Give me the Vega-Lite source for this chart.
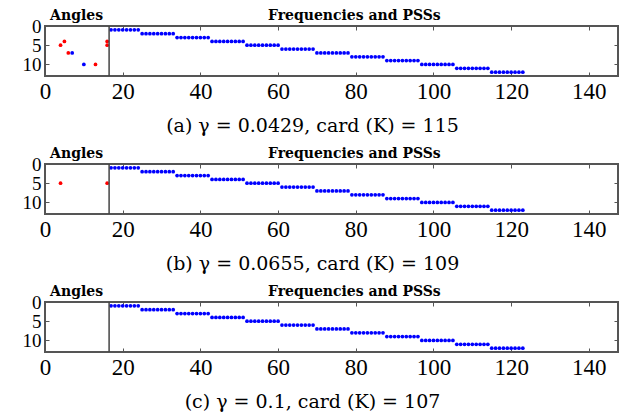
{
  "$schema": "https://vega.github.io/schema/vega-lite/v6.json",
  "padding": {"left": 21, "top": 7, "right": 0, "bottom": 0},
  "config": {
    "view": {"stroke": "#555", "strokeWidth": 2},
    "font": "Liberation Serif",
    "axis": {"labelFont": "Liberation Serif"}
  },
  "datasets": {
    "freq": [
      {"x":17,"y":1},{"x":18,"y":1},{"x":19,"y":1},{"x":20,"y":1},{"x":21,"y":1},{"x":22,"y":1},{"x":23,"y":1},{"x":24,"y":1},
      {"x":25,"y":2},{"x":26,"y":2},{"x":27,"y":2},{"x":28,"y":2},{"x":29,"y":2},{"x":30,"y":2},{"x":31,"y":2},{"x":32,"y":2},{"x":33,"y":2},
      {"x":34,"y":3},{"x":35,"y":3},{"x":36,"y":3},{"x":37,"y":3},{"x":38,"y":3},{"x":39,"y":3},{"x":40,"y":3},{"x":41,"y":3},{"x":42,"y":3},
      {"x":43,"y":4},{"x":44,"y":4},{"x":45,"y":4},{"x":46,"y":4},{"x":47,"y":4},{"x":48,"y":4},{"x":49,"y":4},{"x":50,"y":4},{"x":51,"y":4},
      {"x":52,"y":5},{"x":53,"y":5},{"x":54,"y":5},{"x":55,"y":5},{"x":56,"y":5},{"x":57,"y":5},{"x":58,"y":5},{"x":59,"y":5},{"x":60,"y":5},
      {"x":61,"y":6},{"x":62,"y":6},{"x":63,"y":6},{"x":64,"y":6},{"x":65,"y":6},{"x":66,"y":6},{"x":67,"y":6},{"x":68,"y":6},{"x":69,"y":6},
      {"x":70,"y":7},{"x":71,"y":7},{"x":72,"y":7},{"x":73,"y":7},{"x":74,"y":7},{"x":75,"y":7},{"x":76,"y":7},{"x":77,"y":7},{"x":78,"y":7},
      {"x":79,"y":8},{"x":80,"y":8},{"x":81,"y":8},{"x":82,"y":8},{"x":83,"y":8},{"x":84,"y":8},{"x":85,"y":8},{"x":86,"y":8},{"x":87,"y":8},
      {"x":88,"y":9},{"x":89,"y":9},{"x":90,"y":9},{"x":91,"y":9},{"x":92,"y":9},{"x":93,"y":9},{"x":94,"y":9},{"x":95,"y":9},{"x":96,"y":9},
      {"x":97,"y":10},{"x":98,"y":10},{"x":99,"y":10},{"x":100,"y":10},{"x":101,"y":10},{"x":102,"y":10},{"x":103,"y":10},{"x":104,"y":10},{"x":105,"y":10},
      {"x":106,"y":11},{"x":107,"y":11},{"x":108,"y":11},{"x":109,"y":11},{"x":110,"y":11},{"x":111,"y":11},{"x":112,"y":11},{"x":113,"y":11},{"x":114,"y":11},
      {"x":115,"y":12},{"x":116,"y":12},{"x":117,"y":12},{"x":118,"y":12},{"x":119,"y":12},{"x":120,"y":12},{"x":121,"y":12},{"x":122,"y":12},{"x":123,"y":12}
    ],
    "anglesA": [
      {"x":4,"y":5,"group":"red"},{"x":5,"y":4,"group":"red"},{"x":6,"y":7,"group":"red"},{"x":7,"y":7,"group":"blue"},
      {"x":10,"y":10,"group":"blue"},{"x":13,"y":10,"group":"red"},{"x":16,"y":4,"group":"red"},{"x":16,"y":5,"group":"red"}
    ],
    "anglesB": [
      {"x":4,"y":5,"group":"red"},{"x":16,"y":5,"group":"red"}
    ],
    "sep": [{"x":16.5}]
  },
  "bounds": "flush",
  "spacing": 88,
  "vconcat": [
    {
      "width": 573, "height": 50,
      "resolve": {"axis": {"x": "independent", "y": "independent"}},
      "layer": [
        {
          "data": {"name": "freq"},
          "mark": {"type": "circle", "size": 14, "color": "#0000ff", "opacity": 1},
          "encoding": {
            "x": {"field": "x", "type": "quantitative", "scale": {"domain": [0, 147.5], "nice": false, "zero": false},
              "axis": {"orient": "bottom", "values": [0,20,40,60,80,100,120,140], "grid": false, "domain": false, "tickSize": -4, "tickColor": "#555", "labelFlush": false, "labelOverlap": false, "labelFontSize": 23, "labelColor": "#000", "labelPadding": 8,
                "title": "(a) γ = 0.0429, card (K) = 115", "titleFont": "DejaVu Serif", "titleFontSize": 19, "titleFontWeight": "normal", "titleColor": "#000", "titlePadding": 13, "titleX": 267}},
            "y": {"field": "y", "type": "quantitative", "scale": {"domain": [0, 13], "reverse": true, "nice": false, "zero": false},
              "axis": {"orient": "left", "values": [0,5,10], "grid": false, "domain": false, "tickSize": -4, "tickColor": "#555", "labelFlush": false, "labelOverlap": false, "labelFontSize": 19, "labelColor": "#000", "labelPadding": 8, "title": null}}
          }
        },
        {
          "data": {"name": "anglesA"},
          "mark": {"type": "circle", "size": 14, "opacity": 1},
          "encoding": {
            "x": {"field": "x", "type": "quantitative", "scale": {"domain": [0, 147.5], "nice": false, "zero": false}, "axis": null},
            "y": {"field": "y", "type": "quantitative", "scale": {"domain": [0, 13], "reverse": true, "nice": false, "zero": false}, "axis": null},
            "color": {"field": "group", "type": "nominal", "scale": {"domain": ["red", "blue"], "range": ["#ff0000", "#0000ff"]}, "legend": null}
          }
        },
        {
          "data": {"name": "sep"},
          "mark": {"type": "rule", "color": "#444", "strokeWidth": 1.5},
          "encoding": {
            "x": {"field": "x", "type": "quantitative", "scale": {"domain": [0, 147.5], "nice": false, "zero": false},
              "axis": {"orient": "top", "values": [8,20,40,60,79.5,80,100,120,140], "grid": false, "domain": false, "tickSize": -4,
                "tickColor": {"condition": {"test": "datum.value == 8 || datum.value == 79.5", "value": "transparent"}, "value": "#555"},
                "labelExpr": "datum.value == 8 ? 'Angles' : datum.value == 79.5 ? 'Frequencies and PSSs' : ''",
                "labelFont": "DejaVu Serif", "labelFontWeight": "bold", "labelFontSize": 14, "labelColor": "#000", "labelPadding": 8, "labelFlush": false, "labelOverlap": false, "labelBound": false, "title": null}},
            "y": {"datum": 0, "type": "quantitative", "scale": {"domain": [0, 13], "reverse": true, "nice": false, "zero": false},
              "axis": {"orient": "right", "values": [0,5,10], "grid": false, "domain": false, "tickSize": -4, "tickColor": "#555", "labels": false, "title": null}},
            "y2": {"datum": 13}
          }
        }
      ]
    },
    {
      "width": 573, "height": 50,
      "resolve": {"axis": {"x": "independent", "y": "independent"}},
      "layer": [
        {
          "data": {"name": "freq"},
          "mark": {"type": "circle", "size": 14, "color": "#0000ff", "opacity": 1},
          "encoding": {
            "x": {"field": "x", "type": "quantitative", "scale": {"domain": [0, 147.5], "nice": false, "zero": false},
              "axis": {"orient": "bottom", "values": [0,20,40,60,80,100,120,140], "grid": false, "domain": false, "tickSize": -4, "tickColor": "#555", "labelFlush": false, "labelOverlap": false, "labelFontSize": 23, "labelColor": "#000", "labelPadding": 8,
                "title": "(b) γ = 0.0655, card (K) = 109", "titleFont": "DejaVu Serif", "titleFontSize": 19, "titleFontWeight": "normal", "titleColor": "#000", "titlePadding": 13, "titleX": 267}},
            "y": {"field": "y", "type": "quantitative", "scale": {"domain": [0, 13], "reverse": true, "nice": false, "zero": false},
              "axis": {"orient": "left", "values": [0,5,10], "grid": false, "domain": false, "tickSize": -4, "tickColor": "#555", "labelFlush": false, "labelOverlap": false, "labelFontSize": 19, "labelColor": "#000", "labelPadding": 8, "title": null}}
          }
        },
        {
          "data": {"name": "anglesB"},
          "mark": {"type": "circle", "size": 14, "opacity": 1},
          "encoding": {
            "x": {"field": "x", "type": "quantitative", "scale": {"domain": [0, 147.5], "nice": false, "zero": false}, "axis": null},
            "y": {"field": "y", "type": "quantitative", "scale": {"domain": [0, 13], "reverse": true, "nice": false, "zero": false}, "axis": null},
            "color": {"field": "group", "type": "nominal", "scale": {"domain": ["red", "blue"], "range": ["#ff0000", "#0000ff"]}, "legend": null}
          }
        },
        {
          "data": {"name": "sep"},
          "mark": {"type": "rule", "color": "#444", "strokeWidth": 1.5},
          "encoding": {
            "x": {"field": "x", "type": "quantitative", "scale": {"domain": [0, 147.5], "nice": false, "zero": false},
              "axis": {"orient": "top", "values": [8,20,40,60,79.5,80,100,120,140], "grid": false, "domain": false, "tickSize": -4,
                "tickColor": {"condition": {"test": "datum.value == 8 || datum.value == 79.5", "value": "transparent"}, "value": "#555"},
                "labelExpr": "datum.value == 8 ? 'Angles' : datum.value == 79.5 ? 'Frequencies and PSSs' : ''",
                "labelFont": "DejaVu Serif", "labelFontWeight": "bold", "labelFontSize": 14, "labelColor": "#000", "labelPadding": 8, "labelFlush": false, "labelOverlap": false, "labelBound": false, "title": null}},
            "y": {"datum": 0, "type": "quantitative", "scale": {"domain": [0, 13], "reverse": true, "nice": false, "zero": false},
              "axis": {"orient": "right", "values": [0,5,10], "grid": false, "domain": false, "tickSize": -4, "tickColor": "#555", "labels": false, "title": null}},
            "y2": {"datum": 13}
          }
        }
      ]
    },
    {
      "width": 573, "height": 50,
      "resolve": {"axis": {"x": "independent", "y": "independent"}},
      "layer": [
        {
          "data": {"name": "freq"},
          "mark": {"type": "circle", "size": 14, "color": "#0000ff", "opacity": 1},
          "encoding": {
            "x": {"field": "x", "type": "quantitative", "scale": {"domain": [0, 147.5], "nice": false, "zero": false},
              "axis": {"orient": "bottom", "values": [0,20,40,60,80,100,120,140], "grid": false, "domain": false, "tickSize": -4, "tickColor": "#555", "labelFlush": false, "labelOverlap": false, "labelFontSize": 23, "labelColor": "#000", "labelPadding": 8,
                "title": "(c) γ = 0.1, card (K) = 107", "titleFont": "DejaVu Serif", "titleFontSize": 19, "titleFontWeight": "normal", "titleColor": "#000", "titlePadding": 13, "titleX": 267}},
            "y": {"field": "y", "type": "quantitative", "scale": {"domain": [0, 13], "reverse": true, "nice": false, "zero": false},
              "axis": {"orient": "left", "values": [0,5,10], "grid": false, "domain": false, "tickSize": -4, "tickColor": "#555", "labelFlush": false, "labelOverlap": false, "labelFontSize": 19, "labelColor": "#000", "labelPadding": 8, "title": null}}
          }
        },
        {
          "data": {"name": "sep"},
          "mark": {"type": "rule", "color": "#444", "strokeWidth": 1.5},
          "encoding": {
            "x": {"field": "x", "type": "quantitative", "scale": {"domain": [0, 147.5], "nice": false, "zero": false},
              "axis": {"orient": "top", "values": [8,20,40,60,79.5,80,100,120,140], "grid": false, "domain": false, "tickSize": -4,
                "tickColor": {"condition": {"test": "datum.value == 8 || datum.value == 79.5", "value": "transparent"}, "value": "#555"},
                "labelExpr": "datum.value == 8 ? 'Angles' : datum.value == 79.5 ? 'Frequencies and PSSs' : ''",
                "labelFont": "DejaVu Serif", "labelFontWeight": "bold", "labelFontSize": 14, "labelColor": "#000", "labelPadding": 8, "labelFlush": false, "labelOverlap": false, "labelBound": false, "title": null}},
            "y": {"datum": 0, "type": "quantitative", "scale": {"domain": [0, 13], "reverse": true, "nice": false, "zero": false},
              "axis": {"orient": "right", "values": [0,5,10], "grid": false, "domain": false, "tickSize": -4, "tickColor": "#555", "labels": false, "title": null}},
            "y2": {"datum": 13}
          }
        }
      ]
    }
  ]
}
